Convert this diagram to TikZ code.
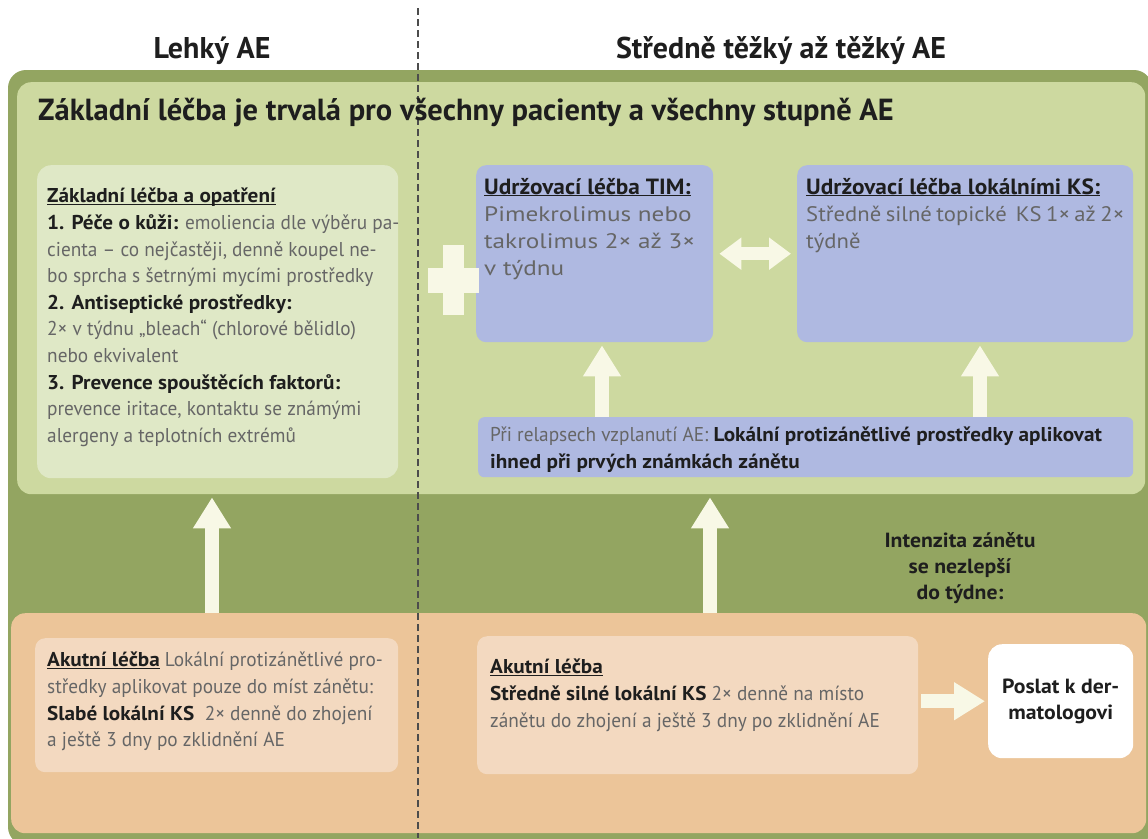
\documentclass[tikz,border=0pt]{standalone}
\usepackage{fontspec}
\setmainfont{PT Sans}[FakeStretch=0.965]
\newfontfamily\bodybold{PT Sans Bold}[FakeStretch=1.06]
\newfontfamily\widefont{PT Sans}[FakeStretch=1.08]
\newfontfamily\timfont{PT Sans}[FakeStretch=1.2]
\newfontfamily\headfont{PT Sans Bold}[FakeStretch=1.0]
\usetikzlibrary{arrows.meta,calc}

\definecolor{framegreen}{HTML}{93A561}
\definecolor{basegreen}{HTML}{CDD9A0}
\definecolor{carebox}{HTML}{DFE8C6}
\definecolor{timblue}{HTML}{AFB9E1}
\definecolor{acuteorange}{HTML}{ECC599}
\definecolor{acutepeach}{HTML}{F3D9C0}
\definecolor{arrowcream}{HTML}{F8F8E6}
\definecolor{bodygray}{HTML}{666666}
\definecolor{boldink}{HTML}{1E1E1E}

\tikzset{
  panel/.style={anchor=north west, inner sep=0pt, rounded corners=14pt},
  bigarrow/.style={draw=arrowcream, line width=14pt,
    -{Triangle[width=36pt,length=31pt]}},
  dblarrow/.style={draw=arrowcream, line width=13pt,
    {Triangle[width=31pt,length=22pt]}-{Triangle[width=31pt,length=22pt]}},
  bodytext/.style={anchor=north west, inner sep=0pt, align=left,
    text=bodygray, font=\fontsize{20}{26.6}\selectfont},
  widetext/.style={bodytext, font=\widefont\fontsize{21}{27}\selectfont},
  timtext/.style={bodytext, font=\timfont\fontsize{21}{27}\selectfont},
  headtext/.style={inner sep=0pt, text=boldink,
    font=\headfont\fontsize{30}{34}\selectfont},
  boldtext/.style={inner sep=0pt, align=center, text=boldink,
    font=\bodybold\fontsize{20.5}{26}\selectfont},
  divider/.style={draw=black!70, line width=1.6pt, dash pattern=on 7pt off 4pt}
}
\newcommand{\bk}[1]{{\color{boldink}\bodybold #1}}
\newcommand{\tbk}[1]{{\color{boldink}\bodybold\fontsize{22}{27}\selectfont #1}}
\newcommand{\ul}[1]{\underline{\smash{#1}}}
\newcommand{\spread}[2]{\makebox[#1][s]{#2}}

\begin{document}
\begin{tikzpicture}[x=1pt,y=-1pt]
\useasboundingbox (0,0) rectangle (1148,838);
\fill[white] (0,0) rectangle (1148,838);

% outer olive frame, cut off on the right edge
\begin{scope}
  \clip (0,0) rectangle (1148,838);
  \fill[framegreen, rounded corners=18pt] (8,70) rectangle (1152,845);
\end{scope}

% panels
\node[panel, fill=basegreen, minimum width=1128pt, minimum height=412pt] (basepanel) at (17,82) {};
\node[panel, fill=acuteorange, minimum width=1135pt, minimum height=220pt] (acutepanel) at (11,613) {};

% boxes of the upper panel
\node[panel, fill=carebox, minimum width=361pt, minimum height=313pt] (careBox) at (37,165) {};
\node[panel, fill=timblue, rounded corners=10pt, minimum width=237pt, minimum height=177pt] (timBox) at (476,165) {};
\node[panel, fill=timblue, rounded corners=10pt, minimum width=336pt, minimum height=177pt] (ksBox) at (797,165) {};
\node[panel, fill=timblue, rounded corners=6pt, minimum width=655pt, minimum height=60pt] (relapseBox) at (478,417) {};

% boxes of the lower panel
\node[panel, fill=acutepeach, rounded corners=10pt, minimum width=363pt, minimum height=134pt] (mildBox) at (35,638) {};
\node[panel, fill=acutepeach, rounded corners=10pt, minimum width=441pt, minimum height=138pt] (severeBox) at (477,636) {};
\node[panel, fill=white, rounded corners=14pt, minimum width=145pt, minimum height=114pt] (referBox) at (988,644) {};

% plus sign
\fill[arrowcream] (443,245) rectangle (464,315);
\fill[arrowcream] (428,268) rectangle (479,293);

% column positions of the vertical arrows
\coordinate (leftcol) at (212,0);
\coordinate (midcol) at (710,0);
\coordinate (timcol) at (602,0);
\coordinate (kscol) at (980,0);

% arrows
\draw[bigarrow] (leftcol |- acutepanel.north) -- ([yshift=-3pt]leftcol |- basepanel.south);
\draw[bigarrow] (midcol |- acutepanel.north) -- ([yshift=-3pt]midcol |- basepanel.south);
\draw[bigarrow] (timcol |- relapseBox.north) -- ([yshift=-3pt]timcol |- timBox.south);
\draw[bigarrow] (kscol |- relapseBox.north) -- ([yshift=-3pt]kscol |- ksBox.south);
\draw[dblarrow] ($(timBox.east)+(6pt,0)$) -- ($(ksBox.west)+(-6pt,0)$);
\draw[bigarrow] ([xshift=3pt]severeBox.east |- referBox.west) -- ([xshift=-3pt]referBox.west);

% divider between the two columns
\draw[divider] (418,8) -- (418,838);

% column headings
\node[headtext] (mildHead) at (212,51) {Lehký AE};
\node[headtext] (severeHead) at (781,51) {Středně těžký až těžký AE};
\node[headtext, anchor=west, font=\headfont\fontsize{30.5}{36}\selectfont] (baseHead) at (38,113)
  {Základní léčba je trvalá pro všechny pacienty a všechny stupně AE};

% texts of the upper panel
\node[bodytext] (careText) at (47,184) {\strut\bk{\ul{Základní léčba a opatření}}\\
\bk{1. Péče o kůži:} emoliencia dle výběru pa-\\
cienta – co nejčastěji, denně koupel ne-\\
bo sprcha s šetrnými mycími prostředky\\
\bk{2. Antiseptické prostředky:}\\
2× v týdnu „bleach“ (chlorové bělidlo)\\
nebo ekvivalent\\
\bk{3. Prevence spouštěcích faktorů:}\\
prevence iritace, kontaktu se známými\\
alergeny a teplotních extrémů};

\node[timtext] (timText) at (484,175) {\strut\tbk{\ul{Udržovací léčba TIM:}}\\
Pimekrolimus nebo\\
takrolimus 2× až 3×\\
v týdnu};

\node[widetext] (ksText) at (806,175) {\strut\tbk{\ul{Udržovací léčba lokálními KS:}}\\
\spread{318pt}{Středně silné topické\ \ KS 1× až 2×}\\
týdně};

\node[bodytext] (relapseText) at (490,423) {\strut Při relapsech vzplanutí AE: \bk{Lokální protizánětlivé prostředky aplikovat}\\
\bk{ihned při prvých známkách zánětu}};

% texts of the lower panel
\node[boldtext] (intensity) at (960,568) {Intenzita zánětu\\ se nezlepší\\ do týdne:};

\node[bodytext] (mildText) at (47,648) {\strut\bk{\ul{Akutní léčba}} Lokální protizánětlivé pro-\\
středky aplikovat pouze do míst zánětu:\\
\bk{Slabé lokální KS}~ 2× denně do zhojení\\
a ještě 3 dny po zklidnění AE};

\node[bodytext] (severeText) at (490,655) {\strut\bk{\ul{Akutní léčba}}\\
\bk{Středně silné lokální KS} 2× denně na místo\\
zánětu do zhojení a ještě 3 dny po zklidnění AE};

\node[boldtext] (referText) at (referBox.center) {Poslat k der-\\ matologovi};
\end{tikzpicture}
\end{document}
